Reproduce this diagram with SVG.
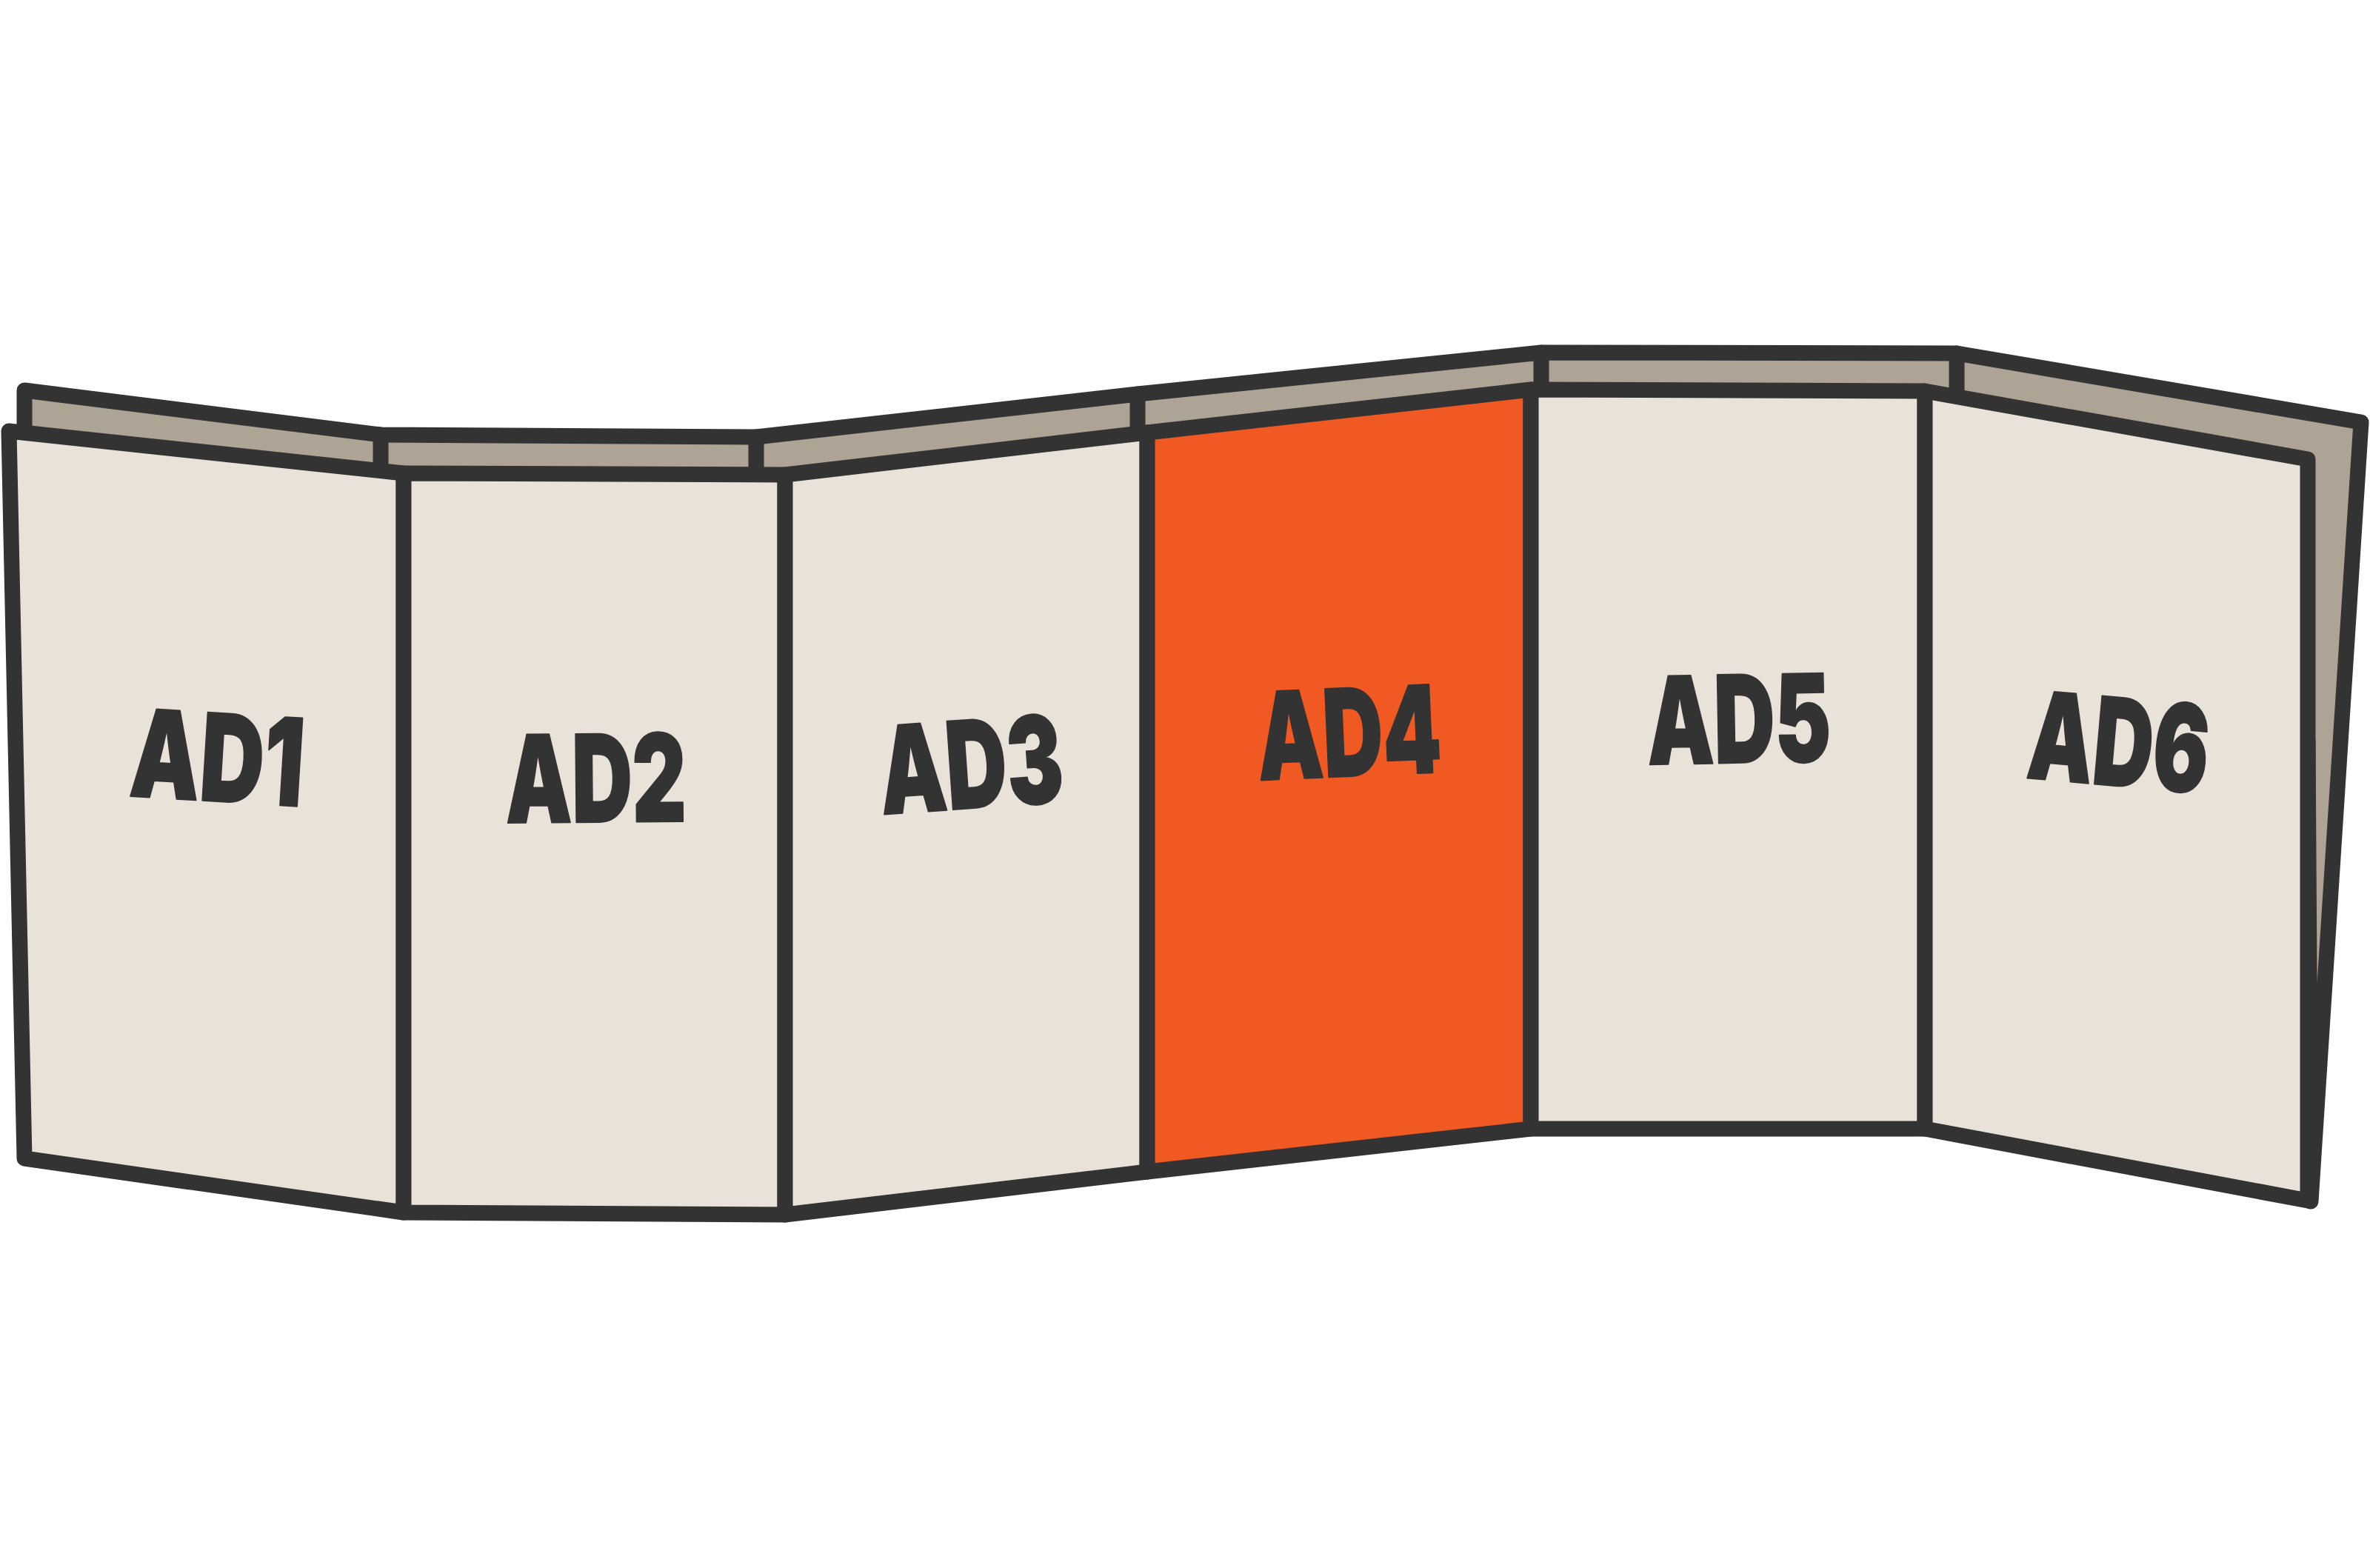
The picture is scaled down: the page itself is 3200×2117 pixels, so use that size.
<svg xmlns="http://www.w3.org/2000/svg" width="3200" height="2117" viewBox="0 0 3200 2117">
<style>
.ln{stroke:#333333;stroke-width:21;stroke-linejoin:round;stroke-linecap:round}
.back{fill:#ADA496}
.panel{fill:#E8E2D8}
.hot{fill:#F05A22}
.div{fill:none}
.lbl{font-family:Inter,"Open Sans","Liberation Sans",sans-serif;font-weight:900;font-size:164px;fill:#333333;stroke:#333333;stroke-width:2;stroke-linejoin:round;text-anchor:middle}
</style>
<rect width="3200" height="2117" fill="#FFFFFF"/>
<g id="back-strip">
<polygon class="ln back" points="33,527 514,587 1021,590 1536,532 2081,476 2642,477 3188,570 3120,1622 3116,1000 33,1000"/>
<line class="ln div" x1="514" y1="587" x2="514" y2="660"/>
<line class="ln div" x1="1021" y1="590" x2="1021" y2="660"/>
<line class="ln div" x1="1536" y1="532" x2="1536" y2="610"/>
<line class="ln div" x1="2081" y1="476" x2="2081" y2="560"/>
<line class="ln div" x1="2642" y1="477" x2="2642" y2="560"/>
</g>
<g id="panel-ad1">
<polygon class="ln panel" points="12,582 545,639 545,1637 33,1564"/>
<text class="lbl" transform="translate(290,1082) rotate(3.5)" textLength="234" lengthAdjust="spacingAndGlyphs">AD1</text>
</g>
<g id="panel-ad2">
<polygon class="ln panel" points="545,639 1060,641 1060,1640 545,1637"/>
<text class="lbl" transform="translate(805,1110) rotate(-0.5)" textLength="244" lengthAdjust="spacingAndGlyphs">AD2</text>
</g>
<g id="panel-ad3">
<polygon class="ln panel" points="1060,641 1549,584 1549,1582 1060,1640"/>
<text class="lbl" transform="translate(1315,1091) rotate(-4)" textLength="248" lengthAdjust="spacingAndGlyphs">AD3</text>
</g>
<g id="panel-ad4">
<polygon class="ln hot" points="1549,584 2067,526 2067,1524 1549,1582"/>
<text class="lbl" transform="translate(1824,1048) rotate(-2.5)" textLength="248" lengthAdjust="spacingAndGlyphs">AD4</text>
</g>
<g id="panel-ad5">
<polygon class="ln panel" points="2067,526 2599,528 2599,1524 2067,1524"/>
<text class="lbl" transform="translate(2349,1030) rotate(-1)" textLength="248" lengthAdjust="spacingAndGlyphs">AD5</text>
</g>
<g id="panel-ad6">
<polygon class="ln panel" points="2599,528 3116,620 3116,1621 2599,1524"/>
<text class="lbl" transform="translate(2856,1061) rotate(5)" textLength="244" lengthAdjust="spacingAndGlyphs">AD6</text>
</g>
<g id="connectors"></g>
</svg>
